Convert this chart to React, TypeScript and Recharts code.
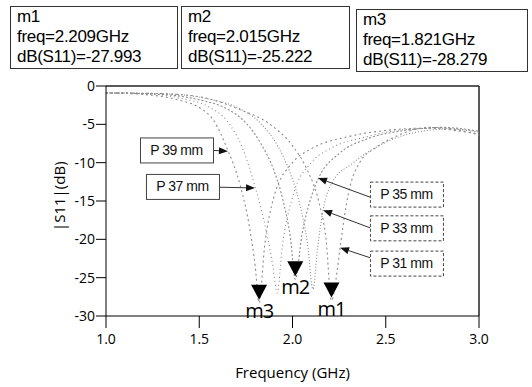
import React from "react";
import {
  LineChart,
  Line,
  XAxis,
  YAxis,
  ReferenceLine,
  ReferenceDot,
} from "recharts";

// |S11| in dB vs frequency (GHz), one curve per patch length
const p39 = [
  { f: 1.0, db: -0.9 }, { f: 1.2, db: -1.1 }, { f: 1.4, db: -1.9 }, { f: 1.5, db: -2.8 },
  { f: 1.58, db: -4.6 }, { f: 1.65, db: -8.2 }, { f: 1.72, db: -13 }, { f: 1.77, db: -18.5 },
  { f: 1.8, db: -23.5 }, { f: 1.821, db: -28.3 }, { f: 1.85, db: -21 }, { f: 1.9, db: -14.5 },
  { f: 2.0, db: -10 }, { f: 2.1, db: -8.2 }, { f: 2.3, db: -6.6 }, { f: 2.5, db: -5.8 },
  { f: 2.7, db: -5.5 }, { f: 2.9, db: -5.9 }, { f: 3.0, db: -6.3 },
];
const p37 = [
  { f: 1.0, db: -0.9 }, { f: 1.2, db: -1.0 }, { f: 1.4, db: -1.6 }, { f: 1.55, db: -2.7 },
  { f: 1.65, db: -4.6 }, { f: 1.73, db: -8 }, { f: 1.8, db: -13.2 }, { f: 1.86, db: -19 },
  { f: 1.895, db: -23.5 }, { f: 1.918, db: -27 }, { f: 1.945, db: -21 }, { f: 2.0, db: -14.5 },
  { f: 2.1, db: -10 }, { f: 2.2, db: -8.2 }, { f: 2.4, db: -6.6 }, { f: 2.6, db: -5.7 },
  { f: 2.8, db: -5.5 }, { f: 3.0, db: -6.1 },
];
const p35 = [
  { f: 1.0, db: -0.9 }, { f: 1.3, db: -1.1 }, { f: 1.5, db: -1.8 }, { f: 1.65, db: -3 },
  { f: 1.75, db: -4.8 }, { f: 1.83, db: -7.5 }, { f: 1.9, db: -11 }, { f: 1.95, db: -15 },
  { f: 1.99, db: -20 }, { f: 2.015, db: -25.2 }, { f: 2.05, db: -19.5 }, { f: 2.1, db: -14.5 },
  { f: 2.14, db: -12 }, { f: 2.25, db: -8.8 }, { f: 2.4, db: -6.9 }, { f: 2.6, db: -5.8 },
  { f: 2.8, db: -5.4 }, { f: 3.0, db: -5.9 },
];
const p33 = [
  { f: 1.0, db: -0.9 }, { f: 1.3, db: -1.0 }, { f: 1.55, db: -1.7 }, { f: 1.72, db: -3 },
  { f: 1.83, db: -4.9 }, { f: 1.92, db: -7.8 }, { f: 1.99, db: -11.5 }, { f: 2.04, db: -15.5 },
  { f: 2.08, db: -20.5 }, { f: 2.11, db: -26.5 }, { f: 2.135, db: -21 }, { f: 2.164, db: -16.2 },
  { f: 2.22, db: -12.3 }, { f: 2.31, db: -10.3 }, { f: 2.47, db: -7.7 }, { f: 2.65, db: -6.1 },
  { f: 2.85, db: -5.6 }, { f: 3.0, db: -6.0 },
];
const p31 = [
  { f: 1.0, db: -0.9 }, { f: 1.3, db: -1.0 }, { f: 1.5, db: -1.4 }, { f: 1.72, db: -3.1 },
  { f: 1.88, db: -5 }, { f: 2.0, db: -7.8 }, { f: 2.08, db: -11 }, { f: 2.14, db: -15 },
  { f: 2.18, db: -20 }, { f: 2.209, db: -28 }, { f: 2.24, db: -24 }, { f: 2.255, db: -21.1 },
  { f: 2.3, db: -14 }, { f: 2.36, db: -10 }, { f: 2.45, db: -8 }, { f: 2.58, db: -6.3 },
  { f: 2.74, db: -5.4 }, { f: 2.9, db: -5.8 }, { f: 3.0, db: -6.4 },
];

const series = [
  { name: "P 39 mm", data: p39, dash: "2 3" },
  { name: "P 37 mm", data: p37, dash: "1 3" },
  { name: "P 35 mm", data: p35, dash: "2 2" },
  { name: "P 33 mm", data: p33, dash: "1 2" },
  { name: "P 31 mm", data: p31, dash: "2 3" },
];

const markers = [
  { id: "m1", f: 2.209, db: -27.993, freq: "2.209GHz", val: "-27.993" },
  { id: "m2", f: 2.015, db: -25.222, freq: "2.015GHz", val: "-25.222" },
  { id: "m3", f: 1.821, db: -28.279, freq: "1.821GHz", val: "-28.279" },
];

// label box centre and arrow (from -> to) in data units
const callouts = [
  { text: "P 39 mm", bx: 1.378, by: -8.34, x1: 1.574, y1: -8.4, x2: 1.654, y2: -8.5, dotted: false },
  { text: "P 37 mm", bx: 1.41, by: -13.1, x1: 1.606, y1: -13.2, x2: 1.799, y2: -13.3, dotted: false },
  { text: "P 35 mm", bx: 2.611, by: -14.1, x1: 2.416, y1: -14.5, x2: 2.137, y2: -12.0, dotted: true },
  { text: "P 33 mm", bx: 2.611, by: -18.5, x1: 2.416, y1: -18.5, x2: 2.164, y2: -16.2, dotted: true },
  { text: "P 31 mm", bx: 2.611, by: -23.1, x1: 2.416, y1: -22.4, x2: 2.255, y2: -21.1, dotted: true },
];

const xTicks = [1.0, 1.5, 2.0, 2.5, 3.0];
const yTicks = [0, -5, -10, -15, -20, -25, -30];

const FONT = "'Open Sans', 'DejaVu Sans', sans-serif";
const ARIAL = "'Liberation Sans', Arial, sans-serif";

const Arrow = (props: any) => {
  const { x1, y1, x2, y2 } = props;
  const dx = x2 - x1;
  const dy = y2 - y1;
  const len = Math.sqrt(dx * dx + dy * dy) || 1;
  const ux = dx / len;
  const uy = dy / len;
  const hl = 9;
  const hw = 3.5;
  const bx = x2 - ux * hl;
  const by = y2 - uy * hl;
  return (
    <g>
      <line x1={x1} y1={y1} x2={bx} y2={by} stroke="#333" strokeWidth={1} />
      <polygon
        points={`${x2},${y2} ${bx - uy * hw},${by + ux * hw} ${bx + uy * hw},${by - ux * hw}`}
        fill="#111"
      />
    </g>
  );
};

const LabelBox = (props: any) => {
  const { cx, cy, text, dotted } = props;
  return (
    <g>
      <rect
        x={cx - 36}
        y={cy - 12}
        width={73}
        height={25}
        fill="#fff"
        stroke="#444"
        strokeWidth={1}
        strokeDasharray={dotted ? "3 2" : undefined}
      />
      <text x={cx} y={cy + 5} textAnchor="middle" fontSize={14} fontFamily={ARIAL} fill="#111" letterSpacing={-0.5}>
        {text}
      </text>
    </g>
  );
};

const MarkerShape = (props: any) => {
  const { cx, cy, id } = props;
  const tip = cy - 3;
  return (
    <g>
      <polygon points={`${cx},${tip} ${cx - 8},${tip - 15} ${cx + 8},${tip - 15}`} fill="#000" />
      <text x={cx} y={tip + 18} textAnchor="middle" fontSize={20} fontFamily={FONT} fill="#000" letterSpacing={-1}>
        {id}
      </text>
    </g>
  );
};

const boxPos = [
  { left: 10, top: 6, width: 168, height: 63 },
  { left: 181, top: 6, width: 169, height: 63 },
  { left: 356, top: 9, width: 172, height: 63 },
];

export default function App() {
  return (
    <div style={{ position: "absolute", left: 0, top: 0, width: 532, height: 387, background: "#fff" }}>
      {markers.map((m, i) => (
        <div
          key={m.id}
          style={{
            position: "absolute",
            ...boxPos[i],
            boxSizing: "border-box",
            border: "1px solid #333",
            fontFamily: ARIAL,
            fontSize: 17,
            lineHeight: "20px",
            padding: "0px 6px",
            letterSpacing: -0.3,
            color: "#000",
          }}
        >
          <div>{m.id}</div>
          <div>freq={m.freq}</div>
          <div>dB(S11)={m.val}</div>
        </div>
      ))}
      <div style={{ position: "absolute", left: 0, top: 0 }}>
        <LineChart width={532} height={387} margin={{ top: 86, right: 53, bottom: 31, left: 66 }}>
          <XAxis
            type="number"
            dataKey="f"
            domain={[1, 3]}
            ticks={xTicks}
            tickFormatter={(v: number) => v.toFixed(1)}
            allowDuplicatedCategory={false}
            stroke="#000"
            tickSize={12}
            tickMargin={6}
            height={40}
            tick={{ fill: "#000", fontSize: 14, fontFamily: FONT }}
            label={{ value: "Frequency (GHz)", position: "insideBottom", offset: -22, fill: "#000", fontSize: 15, fontFamily: FONT }}
          />
          <YAxis
            type="number"
            dataKey="db"
            domain={[-30, 0]}
            ticks={yTicks}
            stroke="#000"
            tickSize={10}
            tickMargin={1}
            width={40}
            tick={{ fill: "#000", fontSize: 14, fontFamily: FONT }}
            label={{ value: "|S11|(dB)", angle: -90, position: "insideLeft", offset: -6, dy: 30, fill: "#000", fontSize: 15, fontFamily: FONT }}
          />
          <ReferenceLine y={0} stroke="#222" strokeWidth={1.5} />
          <ReferenceLine x={3} stroke="#222" strokeWidth={1.5} />
          {series.map((s) => (
            <Line
              key={s.name}
              data={s.data}
              dataKey="db"
              type="monotone"
              stroke="#8c8c8c"
              strokeWidth={1.1}
              strokeDasharray={s.dash}
              dot={false}
              isAnimationActive={false}
            />
          ))}
          {callouts.map((c) => (
            <ReferenceLine
              key={c.text + "a"}
              segment={[{ x: c.x1, y: c.y1 }, { x: c.x2, y: c.y2 }]}
              shape={Arrow}
            />
          ))}
          {callouts.map((c) => (
            <ReferenceDot
              key={c.text}
              x={c.bx}
              y={c.by}
              shape={(p: any) => <LabelBox {...p} text={c.text} dotted={c.dotted} />}
            />
          ))}
          {markers.map((m) => (
            <ReferenceDot key={m.id} x={m.f} y={m.db} shape={(p: any) => <MarkerShape {...p} id={m.id} />} />
          ))}
        </LineChart>
      </div>
    </div>
  );
}
